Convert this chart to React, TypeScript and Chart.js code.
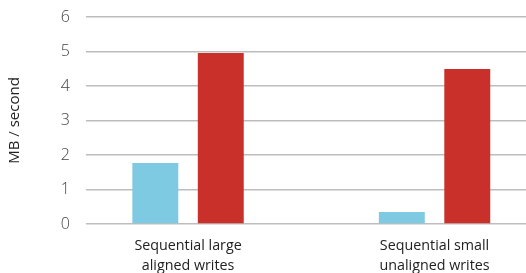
import React, { useEffect, useRef } from "react";
import { Chart, registerables } from "chart.js";
Chart.register(...registerables);

const categories: string[][] = [
  ["Sequential large", "aligned writes"],
  ["Sequential small", "unaligned writes"],
];
const seriesA: number[] = [1.77, 0.35];
const seriesB: number[] = [4.96, 4.49];
const yTicks: number[] = [0, 1, 2, 3, 4, 5, 6];
const yTitle = "MB / second";

export default function App() {
  const ref = useRef<HTMLCanvasElement | null>(null);
  useEffect(() => {
    document.body.style.margin = "0";
    const font = "'Open Sans', 'Noto Sans', sans-serif";
    const chart = new Chart(ref.current!, {
      type: "bar",
      data: {
        datasets: [
          {
            label: "A",
            data: seriesA.map((v, i) => ({ x: i, y: v })),
            backgroundColor: "#7ecae3",
            categoryPercentage: 0.531,
            barPercentage: 0.702,
          },
          {
            label: "B",
            data: seriesB.map((v, i) => ({ x: i, y: v })),
            backgroundColor: "#c9302a",
            categoryPercentage: 0.531,
            barPercentage: 0.702,
          },
        ],
      },
      options: {
        animation: false,
        responsive: false,
        maintainAspectRatio: false,
        layout: { padding: { top: 17, right: 0, left: 0, bottom: 0 } },
        plugins: { legend: { display: false }, tooltip: { enabled: false } },
        scales: {
          x: {
            type: "linear",
            min: -0.414,
            max: 1.371,
            offset: false,
            grid: { display: false },
            border: { display: false },
            afterBuildTicks: (axis: any) => {
              axis.ticks = categories.map((_, i) => ({ value: i }));
            },
            afterFit: (scale: any) => {
              scale.height = 49;
              scale.paddingLeft = 0;
              scale.paddingRight = 0;
            },
            ticks: {
              padding: 4,
              color: "#222",
              font: { family: font, size: 14.3, lineHeight: 1.4 },
              callback: (v: any) => categories[Math.round(Number(v))] ?? "",
            },
          },
          y: {
            min: 0,
            max: 6,
            afterBuildTicks: (axis: any) => {
              axis.ticks = yTicks.map((v) => ({ value: v }));
            },
            afterFit: (scale: any) => {
              scale.width = 86;
              scale.paddingTop = 0;
              scale.paddingBottom = 0;
            },
            grid: { color: "#bdbdbd", lineWidth: 1.5, drawTicks: false },
            border: { display: false },
            ticks: {
              padding: 16,
              color: "#444",
              font: { family: font, size: 16, weight: 300 as any },
            },
            title: {
              display: true,
              text: yTitle,
              color: "#222",
              padding: { top: 6, bottom: 0 },
              font: { family: font, size: 15 },
            },
          },
        },
      },
    });
    return () => chart.destroy();
  }, []);
  return (
    <div style={{ width: 526, height: 273 }}>
      <canvas ref={ref} width={526} height={273} />
    </div>
  );
}
